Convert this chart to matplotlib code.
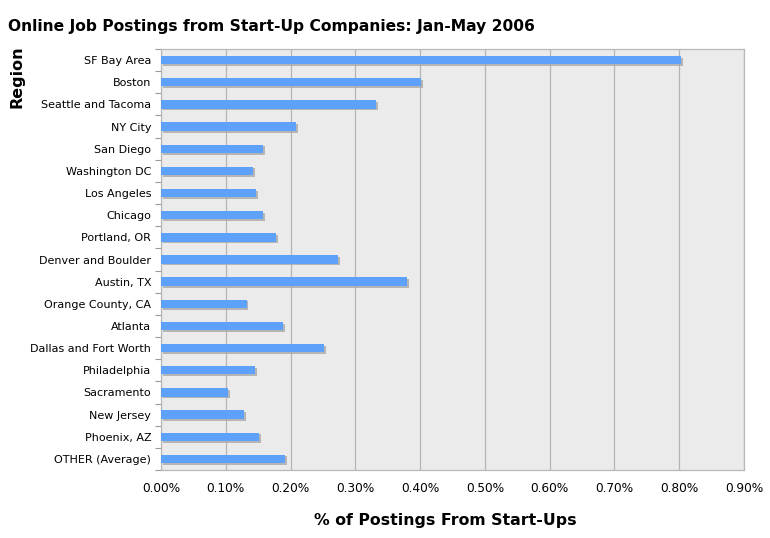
import matplotlib
matplotlib.use("Agg")
import matplotlib.pyplot as plt
from matplotlib.ticker import FuncFormatter, FixedLocator
import numpy as np

regions = ["SF Bay Area", "Boston", "Seattle and Tacoma", "NY City", "San Diego",
           "Washington DC", "Los Angeles", "Chicago", "Portland, OR", "Denver and Boulder",
           "Austin, TX", "Orange County, CA", "Atlanta", "Dallas and Fort Worth",
           "Philadelphia", "Sacramento", "New Jersey", "Phoenix, AZ", "OTHER (Average)"]
values = [0.803, 0.401, 0.332, 0.209, 0.157, 0.142, 0.147, 0.158, 0.177, 0.273,
          0.380, 0.132, 0.189, 0.251, 0.145, 0.104, 0.128, 0.151, 0.191]
xticks = [0.0, 0.1, 0.2, 0.3, 0.4, 0.5, 0.6, 0.7, 0.8, 0.9]

plt.rcParams['font.family'] = ['DejaVu Sans']
fig = plt.figure(figsize=(7.7, 5.38), dpi=100)
ax = fig.add_axes([161/770, 1 - 470/538, (744-161)/770, (470-49)/538])
ax.set_facecolor("#ebebeb")

y = np.arange(len(regions))
h = 0.38
# shadow
ax.barh(y + 0.08, values, height=h, left=0.003, color="#a8a8a8", alpha=0.8, zorder=2)
ax.barh(y, values, height=h, color="#5ea1fb", zorder=3)

ax.set_ylim(len(regions) - 0.5, -0.5)
ax.set_xlim(0, 0.9)
ax.set_yticks(y)
ax.set_yticklabels(regions, fontsize=8)
ax.yaxis.set_minor_locator(FixedLocator(np.arange(-0.5, len(regions), 1)))
ax.tick_params(axis='y', which='major', length=0, pad=7)
ax.tick_params(axis='y', which='minor', length=4, color="#999999", width=0.8)
ax.set_xticks(xticks)
ax.xaxis.set_major_formatter(FuncFormatter(lambda v, p: f"{v:.2f}%"))
ax.tick_params(axis='x', length=0, pad=9, labelsize=8.7)
ax.grid(axis='x', color="#b4b4b4", linewidth=0.9, zorder=1)
ax.set_axisbelow(True)
for s in ax.spines.values():
    s.set_color("#b8b8b8")
    s.set_linewidth(0.9)

fig.text(8/770, 1 - 26/538, "Online Job Postings from Start-Up Companies: Jan-May 2006",
         fontsize=11.2, fontweight='bold', va='center', ha='left')
fig.text(17/770, 1 - 77/538, "Region", rotation=90, fontsize=11.5, fontweight='bold',
         va='center', ha='center')
fig.text(445/770, 1 - 521/538, "% of Postings From Start-Ups", fontsize=11.3,
         fontweight='bold', va='center', ha='center')

fig.savefig("out.png", dpi=100)
